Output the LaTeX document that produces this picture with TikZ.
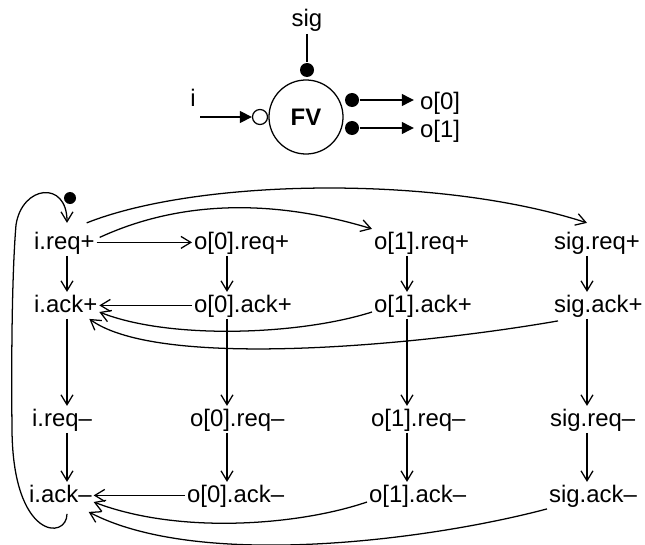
\documentclass[tikz,border=0pt]{standalone}
\usepackage{fontspec}
\setmainfont{Liberation Sans}
\usepackage{tikz}
\usetikzlibrary{arrows.meta,calc}
\tikzset{ev/.style={anchor=base west,inner sep=0pt,outer sep=1.5pt,text height=0.45cm,text depth=0.12cm},
  dot/.style={circle,fill,inner sep=0pt,minimum size=0.35cm},
  bub/.style={circle,draw,fill=white,inner sep=0pt,minimum size=0.375cm},
  sigarr/.style={-{Triangle[length=8.5pt,width=8.5pt]}}}

\begin{document}
\begin{tikzpicture}[x=0.025cm,y=0.025cm,>={Straight Barb[length=7pt,width=8.5pt]},line width=0.9pt,line join=round,font=\fontsize{17}{20}\selectfont]
\useasboundingbox (0,0) rectangle (645,-545);
% --- FV symbol
\node[circle,draw,minimum size=1.85cm,inner sep=0pt,font=\fontsize{17}{20}\selectfont\bfseries] (fv) at (306,-117) {FV};
\node[dot] (sigdot) at (307,-70) {};
\node[bub] (idot) at (260,-117) {};
\node[dot] (o0dot) at (352,-100) {};
\node[dot] (o1dot) at (352,-128) {};
\node[ev,anchor=base] (siglbl) at (307,-27) {sig};
\node[ev,anchor=base] (ilbl) at (193,-107) {i};
\node[ev] (o0lbl) at (418,-109.5) {o[0]};
\node[ev] (o1lbl) at (418,-137.5) {o[1]};
\coordinate (iin) at (200,-117);
\draw (siglbl) -- (sigdot);
\draw[sigarr] (iin) -- (idot);
\draw[sigarr,shorten >=3pt] (o0dot) -- (o0dot -| o0lbl.west);
\draw[sigarr,shorten >=3pt] (o1dot) -- (o1dot -| o1lbl.west);
% --- STG
\coordinate (ci) at (67,0); \coordinate (co0) at (227,0);
\coordinate (co1) at (407,0); \coordinate (csg) at (587,0);
\node[ev] (irp) at (32,-249) {i.req+};
\node[ev] (o0rp) at (192,-249) {o[0].req+};
\node[ev] (o1rp) at (372,-249) {o[1].req+};
\node[ev] (sgrp) at (552,-249) {sig.req+};
\node[ev] (iap) at (32,-312) {i.ack+};
\node[ev] (o0ap) at (192,-312) {o[0].ack+};
\node[ev] (o1ap) at (372,-312) {o[1].ack+};
\node[ev] (sgap) at (552,-312) {sig.ack+};
\node[ev] (irm) at (30,-426) {i.req--};
\node[ev] (o0rm) at (188,-426) {o[0].req--};
\node[ev] (o1rm) at (369,-426) {o[1].req--};
\node[ev] (sgrm) at (548,-426) {sig.req--};
\node[ev] (iam) at (27,-502) {i.ack--};
\node[ev] (o0am) at (185,-502) {o[0].ack--};
\node[ev] (o1am) at (367,-502) {o[1].ack--};
\node[ev] (sgam) at (547,-502) {sig.ack--};
\node[dot,minimum size=0.3cm] (tok) at (70,-198) {};
\foreach \n/\c in {i/ci,o0/co0,o1/co1,sg/csg} {
  \draw[->] (\n rp.south -| \c) -- (\n ap.north -| \c);
  \draw[->] (\n ap.south -| \c) -- (\n rm.north -| \c);
  \draw[->] (\n rm.south -| \c) -- (\n am.north -| \c);
}
\draw[->] (irp) -- (o0rp);
\draw[->] (o0ap) -- (iap);
\draw[->] (o0am) -- (iam);
\draw[->] ($(irp.east)+(3,5)$) .. controls (170,-205) and (260,-195) .. (o1rp.north west);
\draw[->] ($(irp.north east)+(-10,6)$) .. controls (200,-178) and (440,-175) .. ($(sgrp.north -| csg)+(0,6)$);
\draw[->] (o1ap.base west) .. controls (300,-335) and (170,-340) .. (iap.base east);
\draw[->] ($(sgap.south west)+(6,-2)$) .. controls (420,-345) and (160,-370) .. ($(iap.south east)+(-10,0)$);
\draw[->] (o1am.base west) .. controls (300,-525) and (180,-535) .. (iam.base east);
\draw[->] (sgam.south west) .. controls (430,-540) and (200,-570) .. ($(iam.south east)+(-5,-3)$);
\draw[->] ($(iam.south -| ci)+(0,-5)$) .. controls (67,-540) and (13,-540) .. (12,-430)
  .. controls (11,-330) and (13,-260) .. (16,-225)
  .. controls (22,-185) and (67,-180) .. ($(irp.north -| ci)+(0,6)$);
\end{tikzpicture}
\end{document}
